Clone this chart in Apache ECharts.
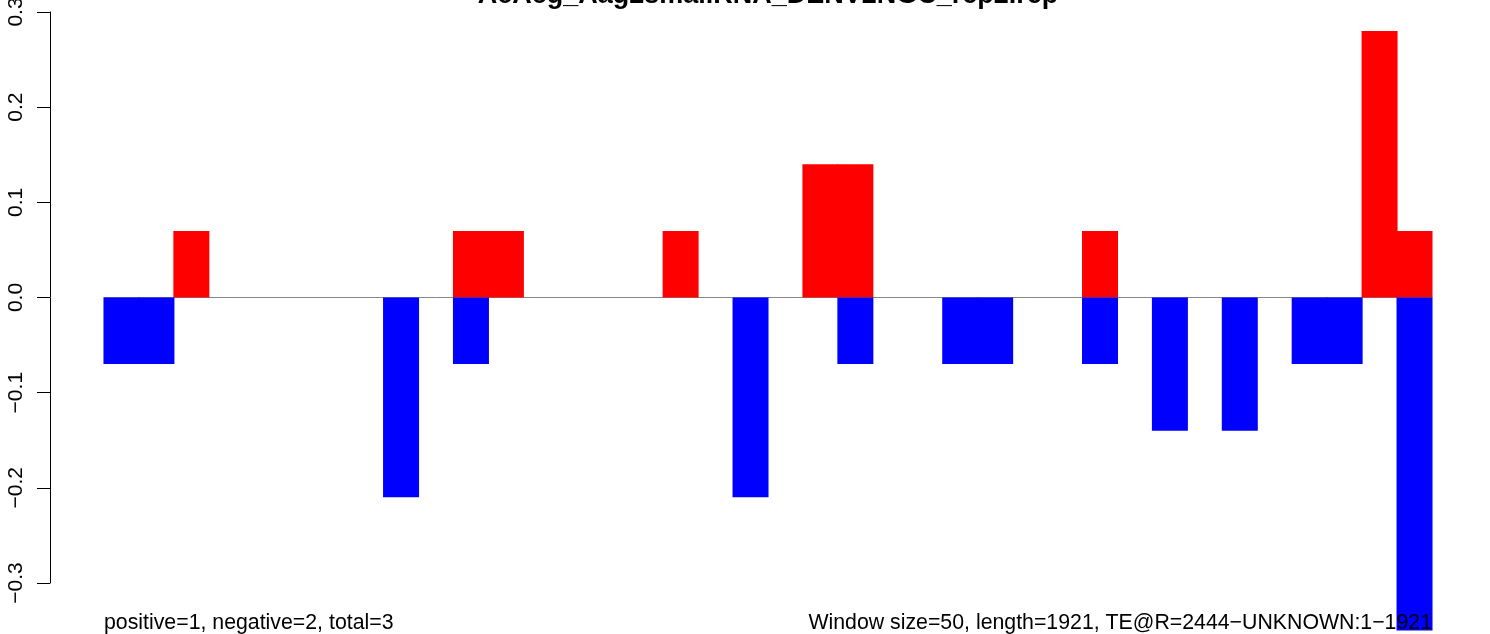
<!DOCTYPE html>
<html>
<head>
<meta charset="utf-8">
<script src="https://cdn.jsdelivr.net/npm/echarts@6/dist/echarts.min.js"></script>
<style>
html,body{margin:0;padding:0;background:#fff;}
#chart{width:1490px;height:634px;}
</style>
</head>
<body>
<div id="chart"></div>
<script>
// Window index (window size = 50 nt, 38 windows)
var windows = [];
for (var w = 1; w <= 38; w++) windows.push(String(w));

// Positive strand values per window
var positiveValues = [
  0, 0, 0.07, 0, 0, 0, 0, 0, 0, 0,
  0.07, 0.07, 0, 0, 0, 0, 0.07, 0, 0, 0,
  0.14, 0.14, 0, 0, 0, 0, 0, 0, 0.07, 0,
  0, 0, 0, 0, 0, 0, 0.28, 0.07
];
// Negative strand values per window
var negativeValues = [
  -0.07, -0.07, 0, 0, 0, 0, 0, 0, -0.21, 0,
  -0.07, 0, 0, 0, 0, 0, 0, 0, -0.21, 0,
  0, -0.07, 0, 0, -0.07, -0.07, 0, 0, -0.07, 0,
  -0.14, 0, -0.14, 0, -0.07, -0.07, 0, -0.35
];

var titleText = 'AcAcg_Aag2smallRNA_DENV2NGC_rep2.rep';
var leftNote = 'positive=1, negative=2, total=3';
var rightNote = 'Window size=50, length=1921, TE@R=2444\u2212UNKNOWN:1\u22121921';

function toSeries(arr) { return arr.map(function (v) { return v === 0 ? null : v; }); }

var chart = echarts.init(document.getElementById('chart'), null, {renderer: 'canvas'});
var FONT = 'Liberation Sans, Arial, Helvetica, sans-serif';
chart.setOption({
  animation: false,
  backgroundColor: '#ffffff',
  grid: {left: 104, right: 58, top: 12, height: 571, containLabel: false, outerBoundsMode: 'none'},
  xAxis: {
    type: 'category',
    data: windows,
    boundaryGap: true,
    axisLine: {show: true, onZero: true, lineStyle: {color: '#888888', width: 1}},
    axisTick: {show: false},
    axisLabel: {show: false},
    splitLine: {show: false}
  },
  yAxis: {
    type: 'value',
    min: -0.3, max: 0.3, interval: 0.1,
    offset: 54,
    axisLine: {show: true, lineStyle: {color: '#000', width: 1}},
    axisTick: {show: true, length: 13, lineStyle: {color: '#000', width: 1}},
    axisLabel: {
      rotate: 90, margin: 23, fontSize: 21, fontFamily: FONT, color: '#000',
      hideOverlap: false,
      formatter: function (v) { return v.toFixed(1).replace('-', '\u2212'); }
    },
    splitLine: {show: false}
  },
  series: [
    {type: 'bar', data: toSeries(positiveValues), barWidth: 36, barGap: '-100%',
     itemStyle: {color: '#ff0000'}, clip: false},
    {type: 'bar', data: toSeries(negativeValues), barWidth: 36, barGap: '-100%',
     itemStyle: {color: '#0000ff'}, clip: false}
  ],
  graphic: [
    {type: 'text', x: 768, y: 9, z: 100,
     style: {text: titleText, textAlign: 'center', textVerticalAlign: 'bottom',
             font: 'bold 27px ' + FONT, fill: '#000'}},
    {type: 'text', x: 104, y: 634, z: 100,
     style: {text: leftNote, textAlign: 'left', textVerticalAlign: 'bottom',
             font: '21.3px ' + FONT, fill: '#000'}},
    {type: 'text', x: 1432, y: 634, z: 100,
     style: {text: rightNote, textAlign: 'right', textVerticalAlign: 'bottom',
             font: '21.3px ' + FONT, fill: '#000'}}
  ]
});
</script>
</body>
</html>
